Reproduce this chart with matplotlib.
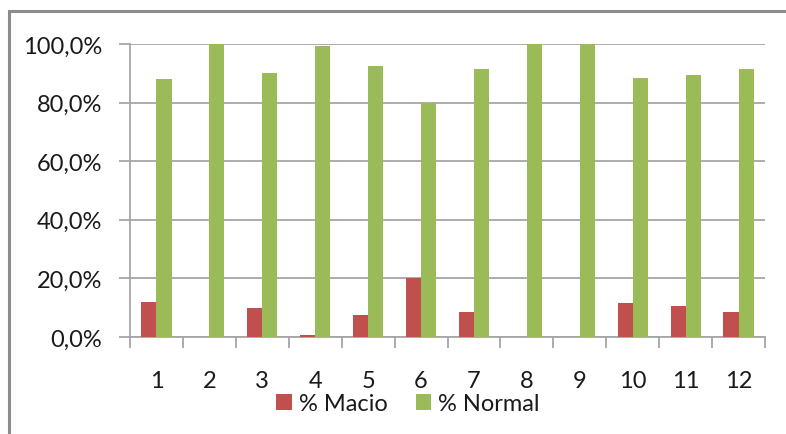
import matplotlib
matplotlib.use("Agg")
import matplotlib.pyplot as plt
from matplotlib.patches import Rectangle, Patch
from matplotlib.ticker import FuncFormatter, FixedLocator
import numpy as np

plt.rcParams['font.family'] = ['Lato', 'DejaVu Sans']

categories = ['1', '2', '3', '4', '5', '6', '7', '8', '9', '10', '11', '12']
pct_macio = [12.0, 0.0, 10.0, 0.8, 7.4, 20.3, 8.4, 0.0, 0.0, 11.6, 10.5, 8.4]
pct_normal = [88.0, 100.0, 90.0, 99.2, 92.6, 79.7, 91.6, 100.0, 100.0, 88.4, 89.5, 91.6]
y_ticks = [0, 20, 40, 60, 80, 100]

RED = '#C0504D'
GREEN = '#9BBB59'
GRID = '#A6A6A6'
TEXT = '#1A1A1A'
FS = 17

W, H = 786, 435
fig = plt.figure(figsize=(W / 100, H / 100), dpi=100)
fig.patch.set_facecolor('white')

# outer chart frame (left and top edges visible)
fig.add_artist(Rectangle((9 / W, -0.1), 1.2, 1 - 12 / H + 0.1,
                         transform=fig.transFigure, fill=False,
                         edgecolor='#8C8C8C', linewidth=2.2, zorder=0))

ax = fig.add_axes([130 / W, 1 - 338 / H, (765 - 130) / W, (338 - 45) / H])

x = np.arange(len(categories))
bw = 0.285
ax.bar(x - bw / 2, pct_macio, width=bw, color=RED, zorder=3, label='% Macio')
ax.bar(x + bw / 2, pct_normal, width=bw, color=GREEN, zorder=3, label='% Normal')

ax.set_xlim(-0.5, len(categories) - 0.5)
ax.set_ylim(0, 100)

ax.set_yticks(y_ticks)
ax.yaxis.set_major_formatter(FuncFormatter(lambda v, p: f"{v:.1f}%".replace('.', ',')))
ax.grid(axis='y', color=GRID, linewidth=1.3, zorder=0)

ax.set_xticks(x)
ax.set_xticklabels(categories)
ax.xaxis.set_minor_locator(FixedLocator(np.arange(-0.5, len(categories), 1.0)))

ax.tick_params(axis='x', which='major', length=0, pad=24, labelsize=FS, labelcolor=TEXT)
ax.tick_params(axis='x', which='minor', length=8, width=1.3, color=GRID, direction='out')
ax.tick_params(axis='y', which='major', length=8, width=1.3, color=GRID, pad=12,
               labelsize=FS, labelcolor=TEXT)

for side in ['top', 'right']:
    ax.spines[side].set_visible(False)
for side in ['left', 'bottom']:
    ax.spines[side].set_color(GRID)
    ax.spines[side].set_linewidth(1.3)

handles = [Patch(facecolor=RED, label='% Macio'), Patch(facecolor=GREEN, label='% Normal')]
fig.legend(handles=handles, loc='center', bbox_to_anchor=(408 / W, 1 - 405 / H),
           ncol=2, frameon=False, fontsize=FS, handlelength=0.65, handleheight=0.65,
           handletextpad=0.3, columnspacing=1.2, labelcolor=TEXT,
           borderpad=0, borderaxespad=0)

fig.savefig('out.png', dpi=100, facecolor='white')
